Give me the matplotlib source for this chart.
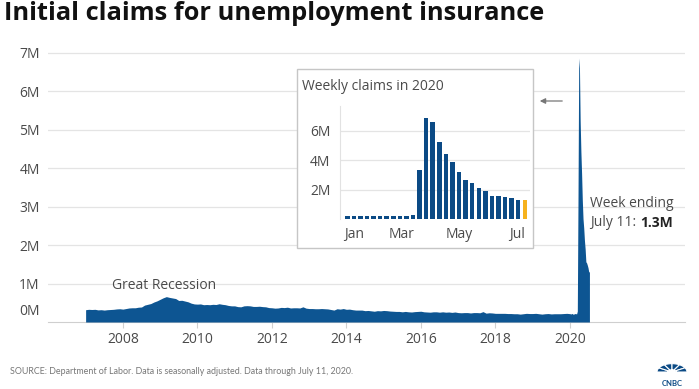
import numpy as np
import pandas as pd
import matplotlib.pyplot as plt
import matplotlib.patches as mpatches

plt.rcParams['font.family'] = ['Open Sans', 'DejaVu Sans']

# monthly initial claims, thousands, Jan 2007 .. Dec 2019
claims_2007_2019 = [
    320, 330, 325, 330, 315, 320, 310, 320, 325, 330, 340, 345,  # 2007
    335, 350, 365, 370, 370, 385, 390, 440, 460, 480, 520, 550,  # 2008
    590, 630, 660, 640, 625, 610, 560, 565, 545, 525, 490, 470,  # 2009
    465, 470, 450, 455, 450, 460, 455, 475, 460, 450, 430, 420,  # 2010
    420, 400, 395, 420, 425, 420, 405, 405, 410, 400, 395, 375,  # 2011
    370, 360, 365, 380, 375, 385, 365, 370, 370, 365, 395, 360,  # 2012
    350, 350, 345, 345, 350, 345, 340, 325, 310, 345, 335, 350,  # 2013
    330, 335, 320, 310, 310, 310, 295, 300, 290, 280, 295, 290,  # 2014
    300, 295, 285, 280, 275, 275, 265, 275, 265, 260, 270, 275,  # 2015
    280, 265, 260, 255, 265, 265, 255, 265, 255, 260, 250, 260,  # 2016
    245, 240, 245, 245, 235, 245, 245, 240, 270, 230, 240, 235,  # 2017
    225, 225, 225, 225, 220, 220, 215, 215, 205, 215, 225, 220,  # 2018
    220, 225, 215, 205, 215, 220, 210, 215, 215, 215, 220, 225,  # 2019
]

# weekly initial claims 2020, thousands, weeks ending Jan 4 .. Jul 11
claims_2020 = [216, 207, 223, 216, 203, 206, 215, 220, 217, 211, 282,
               3307, 6867, 6615, 5237, 4442, 3867, 3176, 2687, 2446, 2123,
               1897, 1566, 1540, 1482, 1413, 1310, 1300]

inset_months = ['Jan', 'Mar', 'May', 'Jul']
main_years = [2008, 2010, 2012, 2014, 2016, 2018, 2020]
main_ylabels = ['1M', '2M', '3M', '4M', '5M', '6M', '7M']

blue = '#0d5592'
navy = '#0b4a85'
yellow = '#f6b21d'
grid_c = '#e4e4e4'
txt_c = '#4a4a4a'

W, H = 699, 389
fig = plt.figure(figsize=(W / 100, H / 100), dpi=100)

# ---- main area chart
ax = fig.add_axes([48 / W, 1 - 322 / H, 637 / W, (322 - 45.3) / H])
ax.set_zorder(1)

x_monthly = 2007 + np.arange(len(claims_2007_2019)) / 12
weeks = pd.date_range('2020-01-04', periods=len(claims_2020), freq='7D')
x_weekly = 2020 + (weeks.dayofyear.values - 1) / 366
x_all = np.concatenate([x_monthly, x_weekly])
y_all = np.concatenate([claims_2007_2019, claims_2020]) * 1000

ax.fill_between(x_all, y_all, 0, color=blue, lw=0, zorder=3)
ax.set_xlim(2005.99, 2023.09)
ax.set_ylim(0, 7.2e6)

ax.set_yticks(np.arange(1, 8) * 1e6)
ax.set_yticklabels(main_ylabels)
ax.yaxis.grid(True, color=grid_c, lw=0.9)
ax.set_axisbelow(True)
ax.tick_params(axis='y', length=0, pad=6, labelsize=10, labelcolor=txt_c)
ax.annotate('0M', xy=(0, 0), xycoords=('axes fraction', 'data'),
            xytext=(-6, 7.5), textcoords='offset points', ha='right',
            va='center', fontsize=10, color=txt_c)

ax.set_xticks(main_years)
ax.set_xticklabels([str(y) for y in main_years])
ax.tick_params(axis='x', length=4, color='#d0d0d0', pad=3, labelsize=10,
               labelcolor=txt_c)
for s in ['top', 'right', 'left']:
    ax.spines[s].set_visible(False)
ax.spines['bottom'].set_color('#cfcfcf')

ax.text(2007.7, 0.95e6, 'Great Recession', fontsize=10, color=txt_c,
        va='center')

# ---- inset box
box = mpatches.Rectangle((297 / W, 1 - 248 / H), 236 / W, 179 / H,
                         transform=fig.transFigure, fc='white',
                         ec='#c6c6c6', lw=1, zorder=2)
fig.add_artist(box)
fig.text(302 / W, 1 - 86 / H, 'Weekly claims in 2020', fontsize=10,
         color=txt_c, va='center', zorder=4)

iax = fig.add_axes([340 / W, 1 - 219 / H, 190 / W, (219 - 106) / H])
iax.set_zorder(3)
iax.patch.set_alpha(0)
idx = np.arange(len(claims_2020))
bar_colors = [navy] * (len(claims_2020) - 1) + [yellow]
iax.bar(idx, np.array(claims_2020) * 1000, width=0.68, color=bar_colors,
        zorder=3)
iax.set_xlim(-1.11, 27.8)
iax.set_ylim(0, 7.7e6)
iax.set_yticks([2e6, 4e6, 6e6])
iax.set_yticklabels(['2M', '4M', '6M'])
iax.yaxis.grid(True, color=grid_c, lw=0.9)
iax.set_axisbelow(True)
iax.set_xticks([1, 8.2, 17, 25.8])
iax.set_xticklabels(inset_months)
iax.tick_params(axis='both', length=0, labelsize=10, labelcolor=txt_c)
iax.tick_params(axis='y', pad=7)
iax.tick_params(axis='x', pad=6)
for s in ['top', 'right', 'bottom']:
    iax.spines[s].set_visible(False)
iax.spines['left'].set_color('#e2e2e2')

# arrow pointing to the inset
fig.add_artist(mpatches.FancyArrowPatch(
    (565 / W, 1 - 101 / H), (537 / W, 1 - 101 / H),
    transform=fig.transFigure, arrowstyle='-|>', mutation_scale=8,
    color='#777777', lw=0.9, zorder=4))

# latest week note
fig.text(590 / W, 1 - 203 / H, 'Week ending', fontsize=10, color=txt_c,
         va='center', zorder=4)
t = fig.text(590 / W, 1 - 223 / H, 'July 11: ', fontsize=10, color=txt_c,
             va='center', zorder=4)
fig.canvas.draw()
bb = t.get_window_extent()
fig.text(bb.x1 / W, 1 - 223 / H, '1.3M', fontsize=10, color='#222222',
         fontweight='bold', va='center', zorder=4)

# title and source
fig.text(4 / W, 1 - 14 / H, 'Initial claims for unemployment insurance',
         fontsize=18.3, fontweight='bold', color='#111111', va='center')
fig.text(10 / W, 1 - 372 / H,
         'SOURCE: Department of Labor. Data is seasonally adjusted. '
         'Data through July 11, 2020.',
         fontsize=6.4, color='#777777', va='center', family='Lato')

# CNBC mark
fan = [(-90 + 30 * k, -60 + 30 * k) for k in range(6)]
for a0, a1 in fan:
    fig.add_artist(mpatches.Wedge((672 / W, 1 - 372 / H), 15 / W,
                                  90 - a1, 90 - a0,
                                  width=11 / W, transform=fig.transFigure,
                                  fc=navy, ec='white', lw=0.8))
fig.text(672 / W, 1 - 383 / H, 'CNBC', fontsize=5.5, fontweight='bold',
         color=navy, ha='center', va='center', family='Lato')

fig.savefig('out.png', dpi=100)
